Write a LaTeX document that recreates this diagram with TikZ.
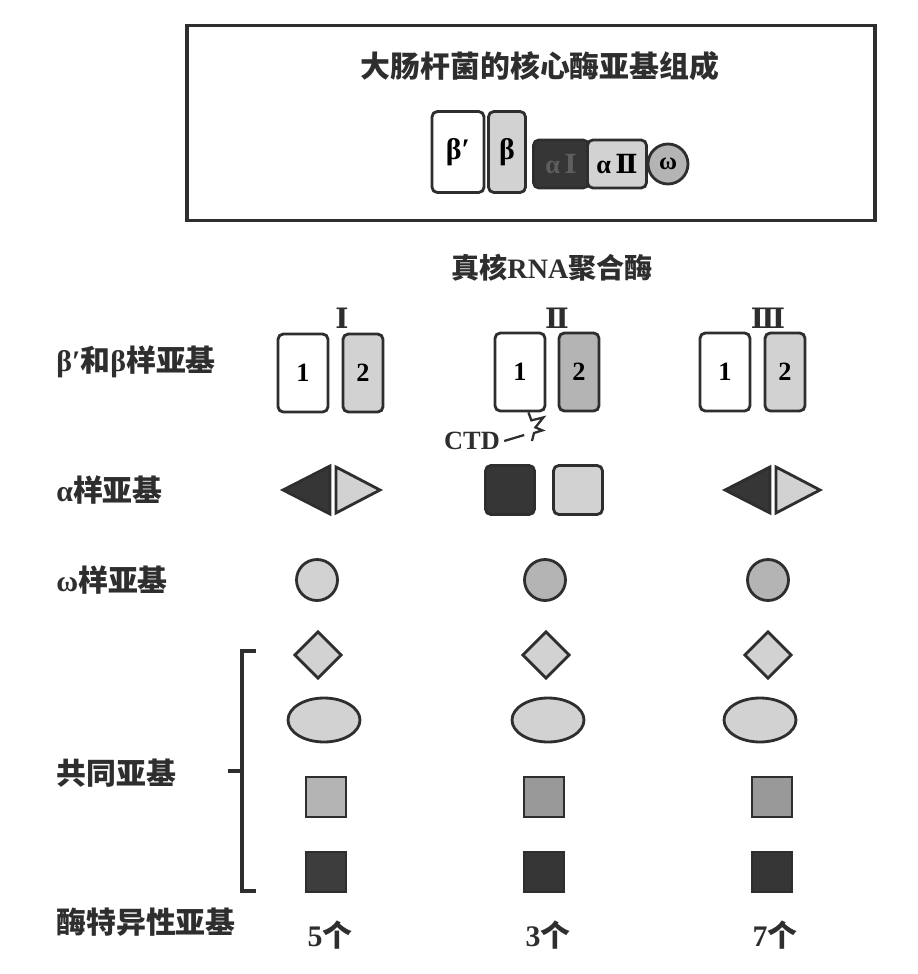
\documentclass[tikz,border=0pt]{standalone}
\usepackage{fontspec}
\setmainfont{Liberation Serif}
\newfontfamily\cjk{Noto Sans CJK SC}
\newfontfamily\romfont{DejaVu Serif}
\usetikzlibrary{shapes.geometric}
\definecolor{lightsub}{HTML}{D2D2D2}
\definecolor{midsub}{HTML}{B4B4B4}
\definecolor{darksub}{HTML}{363636}
\definecolor{edgegray}{HTML}{2E2E2E}

\begin{document}
\begin{tikzpicture}[x=0.02cm, y=-0.02cm, line width=1.6pt, draw=edgegray,
    label text/.style={font=\fontsize{17pt}{19pt}\selectfont\bfseries, text=edgegray, inner sep=0pt},
    row label/.style={label text, anchor=west},
    roman/.style={font=\fontsize{16pt}{18pt}\selectfont\romfont\bfseries, text=edgegray, inner sep=0pt},
    big box/.style={draw=edgegray, rounded corners=3pt, minimum width=1cm, minimum height=1.56cm, inner sep=0pt, font=\fontsize{15pt}{17pt}\selectfont\bfseries},
    thin box/.style={big box, fill=lightsub, minimum width=0.8cm},
    sq/.style={draw=edgegray, rounded corners=3pt, minimum size=0.98cm, inner sep=0pt},
    small sq/.style={draw=edgegray, minimum size=0.8cm, inner sep=0pt},
    ring/.style={circle, draw=edgegray, minimum size=0.82cm, inner sep=0pt},
    kite/.style={diamond, draw=edgegray, fill=lightsub, minimum size=0.95cm, inner sep=0pt},
    egg/.style={ellipse, draw=edgegray, fill=lightsub, minimum width=1.44cm, minimum height=0.88cm, inner sep=0pt}]

    \useasboundingbox (0,0) rectangle (918,974);

    % bacterial core enzyme
    \node[draw=edgegray, line width=1.8pt, minimum width=13.76cm, minimum height=3.9cm, inner sep=0pt] (frame) at (531,123) {};
    \node[label text] (title) at (540,66) {\cjk 大肠杆菌的核心酶亚基组成};
    \node[big box, minimum width=1.04cm, minimum height=1.62cm, font=\fontsize{17pt}{19pt}\selectfont\bfseries] (bp) at (458,152) {β′};
    \node[thin box, minimum width=0.74cm, minimum height=1.62cm, font=\fontsize{17pt}{19pt}\selectfont\bfseries] (b) at (507,152) {β};
    \node[sq, fill=darksub, minimum width=1.1cm, minimum height=0.96cm, text=darksub!80!white, font=\fontsize{15pt}{17pt}\selectfont\bfseries] (a1) at (561,164) {α\,{\romfont Ⅰ}};
    \node[sq, fill=lightsub, minimum width=1.18cm, minimum height=0.96cm, font=\fontsize{15pt}{17pt}\selectfont\bfseries] (a2) at (617,164) {α\,{\romfont Ⅱ}};
    \node[ring, fill=midsub, minimum size=0.8cm, font=\fontsize{14pt}{16pt}\selectfont\bfseries] (w) at (668,164) {ω};

    \node[label text, font=\fontsize{16pt}{18pt}\selectfont\bfseries] (euk) at (552,268) {{\cjk 真核}RNA{\cjk 聚合酶}};

    % row labels
    \node[row label] (lbeta) at (55,362) {β′{\cjk 和}β{\cjk 样亚基}};
    \node[row label] (lalpha) at (55,490) {α{\cjk 样亚基}};
    \node[row label] (lomega) at (55,580) {ω{\cjk 样亚基}};
    \node[row label] (lcommon) at (55,773) {\cjk 共同亚基};
    \node[row label] (lspec) at (55,922) {\cjk 酶特异性亚基};

    % polymerase I
    \node[roman] (n1) at (342,318) {Ⅰ};
    \node[big box] (p1a) at (303,373) {1};
    \node[thin box] (p1b) at (363,373) {2};
    \draw[fill=darksub] (283,490) -- (330,466) -- (330,514) -- cycle;
    \draw[fill=lightsub] (336,467) -- (380,490) -- (336,513) -- cycle;
    \node[ring, fill=lightsub] (w1) at (317,580) {};
    \node[kite] (d1) at (318,655) {};
    \node[egg] (e1) at (324,720) {};
    \node[small sq, fill=midsub] (s1) at (326,797) {};
    \node[small sq, fill=darksub!90!gray] (t1) at (326,872) {};
    \node[label text] (c1) at (330,935) {5{\cjk 个}};

    % polymerase II
    \node[roman] (n2) at (557,318) {Ⅱ};
    \node[big box] (p2a) at (520,372) {1};
    \node[thin box, fill=midsub] (p2b) at (579,372) {2};
    \node[sq, fill=darksub] (q2a) at (510,490) {};
    \node[sq, fill=lightsub] (q2b) at (578,490) {};
    \node[label text, font=\fontsize{15pt}{17pt}\selectfont\bfseries] (ctd) at (472,441) {CTD};
    \coordinate (tail) at (534,433);
    \draw[line width=1.3pt] (p2a.south east) ++(-18,0) -- ++(3,8) -- ++(12,-3) -- ++(-8,10) -- ++(7,3) -- (tail) -- ++(-2,8);
    \draw[line width=1.3pt] (ctd.east) ++(3,0) -- ++(20,-6);
    \node[ring, fill=midsub] (w2) at (545,580) {};
    \node[kite] (d2) at (546,655) {};
    \node[egg] (e2) at (548,720) {};
    \node[small sq, fill=midsub!85!black] (s2) at (544,797) {};
    \node[small sq, fill=darksub] (t2) at (544,872) {};
    \node[label text] (c2) at (548,935) {3{\cjk 个}};

    % polymerase III
    \node[roman] (n3) at (768,318) {Ⅲ};
    \node[big box] (p3a) at (725,372) {1};
    \node[thin box] (p3b) at (785,372) {2};
    \draw[fill=darksub] (725,490) -- (770,467) -- (770,513) -- cycle;
    \draw[fill=lightsub] (776,467) -- (820,490) -- (776,513) -- cycle;
    \node[ring, fill=midsub] (w3) at (768,580) {};
    \node[kite] (d3) at (768,655) {};
    \node[egg] (e3) at (760,720) {};
    \node[small sq, fill=midsub!85!black] (s3) at (772,797) {};
    \node[small sq, fill=darksub] (t3) at (772,872) {};
    \node[label text] (c3) at (775,935) {7{\cjk 个}};

    % bracket for common subunits
    \draw[line width=1.8pt] (256,651) -- (242,651) -- (242,891) -- (256,891);
    \draw[line width=1.8pt] (242,771) -- (228,771);
\end{tikzpicture}
\end{document}
